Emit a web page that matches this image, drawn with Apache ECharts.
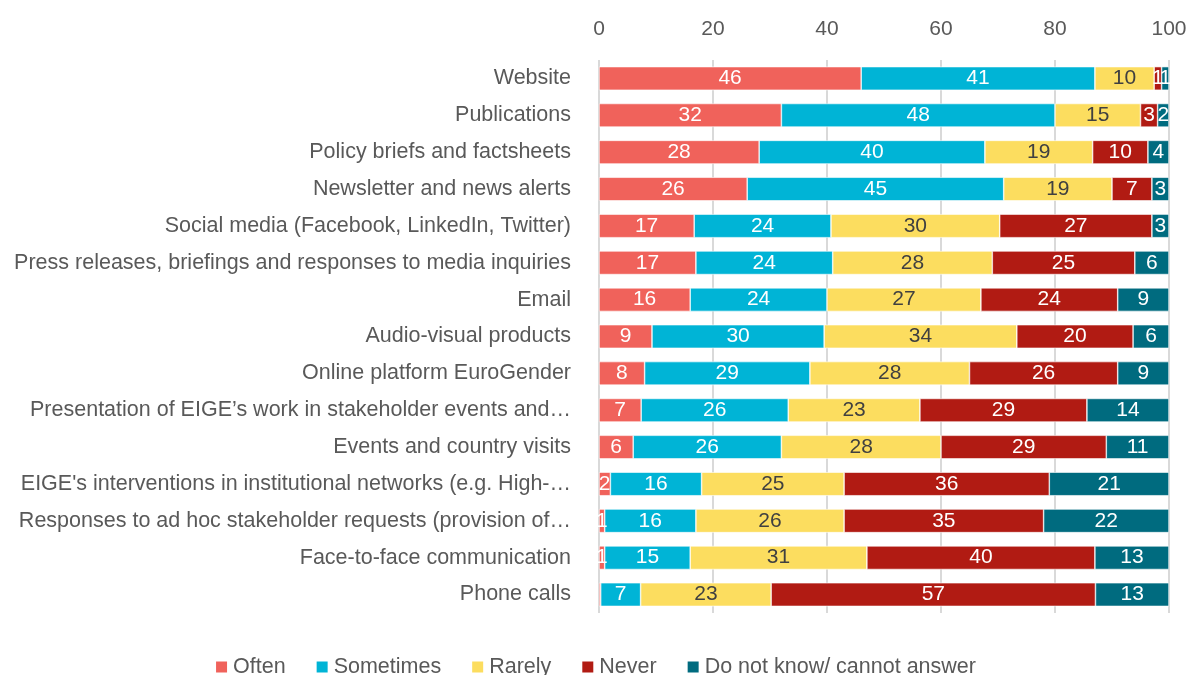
<!DOCTYPE html>
<html><head><meta charset="utf-8">
<script src="https://cdn.jsdelivr.net/npm/echarts@6/dist/echarts.min.js"></script>
<style>html,body{margin:0;padding:0;background:#fff}#c{width:1190px;height:675px}</style>
</head><body><div id="c"></div>
<script>
const categories = [
  "Website",
  "Publications",
  "Policy briefs and factsheets",
  "Newsletter and news alerts",
  "Social media (Facebook, LinkedIn, Twitter)",
  "Press releases, briefings and responses to media inquiries",
  "Email",
  "Audio-visual products",
  "Online platform EuroGender",
  "Presentation of EIGE\u2019s work in stakeholder events and\u2026",
  "Events and country visits",
  "EIGE's interventions in institutional networks (e.g. High-\u2026",
  "Responses to ad hoc stakeholder requests (provision of\u2026",
  "Face-to-face communication",
  "Phone calls"
];
const often     = [46, 32, 28.1, 26, 16.7, 17, 16, 9.3, 8, 7.4, 6, 2, 1, 1, 0.3];
const sometimes = [41, 48, 39.6, 45, 24.0, 24, 24, 30.2, 29, 25.8, 26, 16, 16, 15, 7];
const rarely    = [10.4, 15, 18.9, 19, 29.6, 28, 27, 33.8, 28, 23.1, 28, 25, 26, 31, 22.9];
const never     = [1.3, 3, 9.7, 7, 26.7, 25, 24, 20.4, 26, 29.3, 29, 36, 35, 40, 56.9];
const dontKnow  = [1.3, 2, 3.7, 3, 3.0, 6, 9, 6.3, 9, 14.4, 11, 21, 22, 13, 12.9];
const xTicks = [0, 20, 40, 60, 80, 100];

const FONT = "Liberation Sans";
const seriesDefs = [
  {name: "Often", data: often, color: "#F0625B", label: "#ffffff"},
  {name: "Sometimes", data: sometimes, color: "#00B4D6", label: "#ffffff"},
  {name: "Rarely", data: rarely, color: "#FCDD5F", label: "#404040"},
  {name: "Never", data: never, color: "#B11B13", label: "#ffffff"},
  {name: "Do not know/ cannot answer", data: dontKnow, color: "#006B7F", label: "#ffffff"}
];

const chart = echarts.init(document.getElementById('c'), null, {renderer: 'canvas'});
chart.setOption({
  animation: false,
  grid: {left: 599, right: 21, top: 60, height: 553, containLabel: false},
  xAxis: {
    type: 'value', position: 'top', min: xTicks[0], max: xTicks[xTicks.length - 1], interval: 20,
    axisLine: {show: false}, axisTick: {show: false},
    axisLabel: {color: '#595959', fontSize: 21, fontFamily: FONT, margin: 20},
    splitLine: {show: true, lineStyle: {color: '#D9D9D9', width: 2}}
  },
  yAxis: {
    type: 'category', data: categories, inverse: true,
    axisLine: {show: false}, axisTick: {show: false},
    axisLabel: {color: '#595959', fontSize: 21.5, fontFamily: FONT, margin: 28}
  },
  legend: {
    top: 651, left: 'center', itemWidth: 13, itemHeight: 13, itemGap: 29, icon: 'rect',
    textStyle: {color: '#595959', fontSize: 21.5, fontFamily: FONT},
    data: seriesDefs.map(s => s.name)
  },
  series: seriesDefs.map(s => ({
    name: s.name, type: 'bar', stack: 'total', data: s.data, barCategoryGap: '36%',
    itemStyle: {color: s.color, borderColor: '#ffffff', borderWidth: 0.6},
    label: {
      show: true, position: 'inside', color: s.label, fontSize: 21, fontFamily: FONT,
      formatter: p => p.value < 0.5 ? '' : String(Math.round(p.value))
    }
  }))
});
</script></body></html>
